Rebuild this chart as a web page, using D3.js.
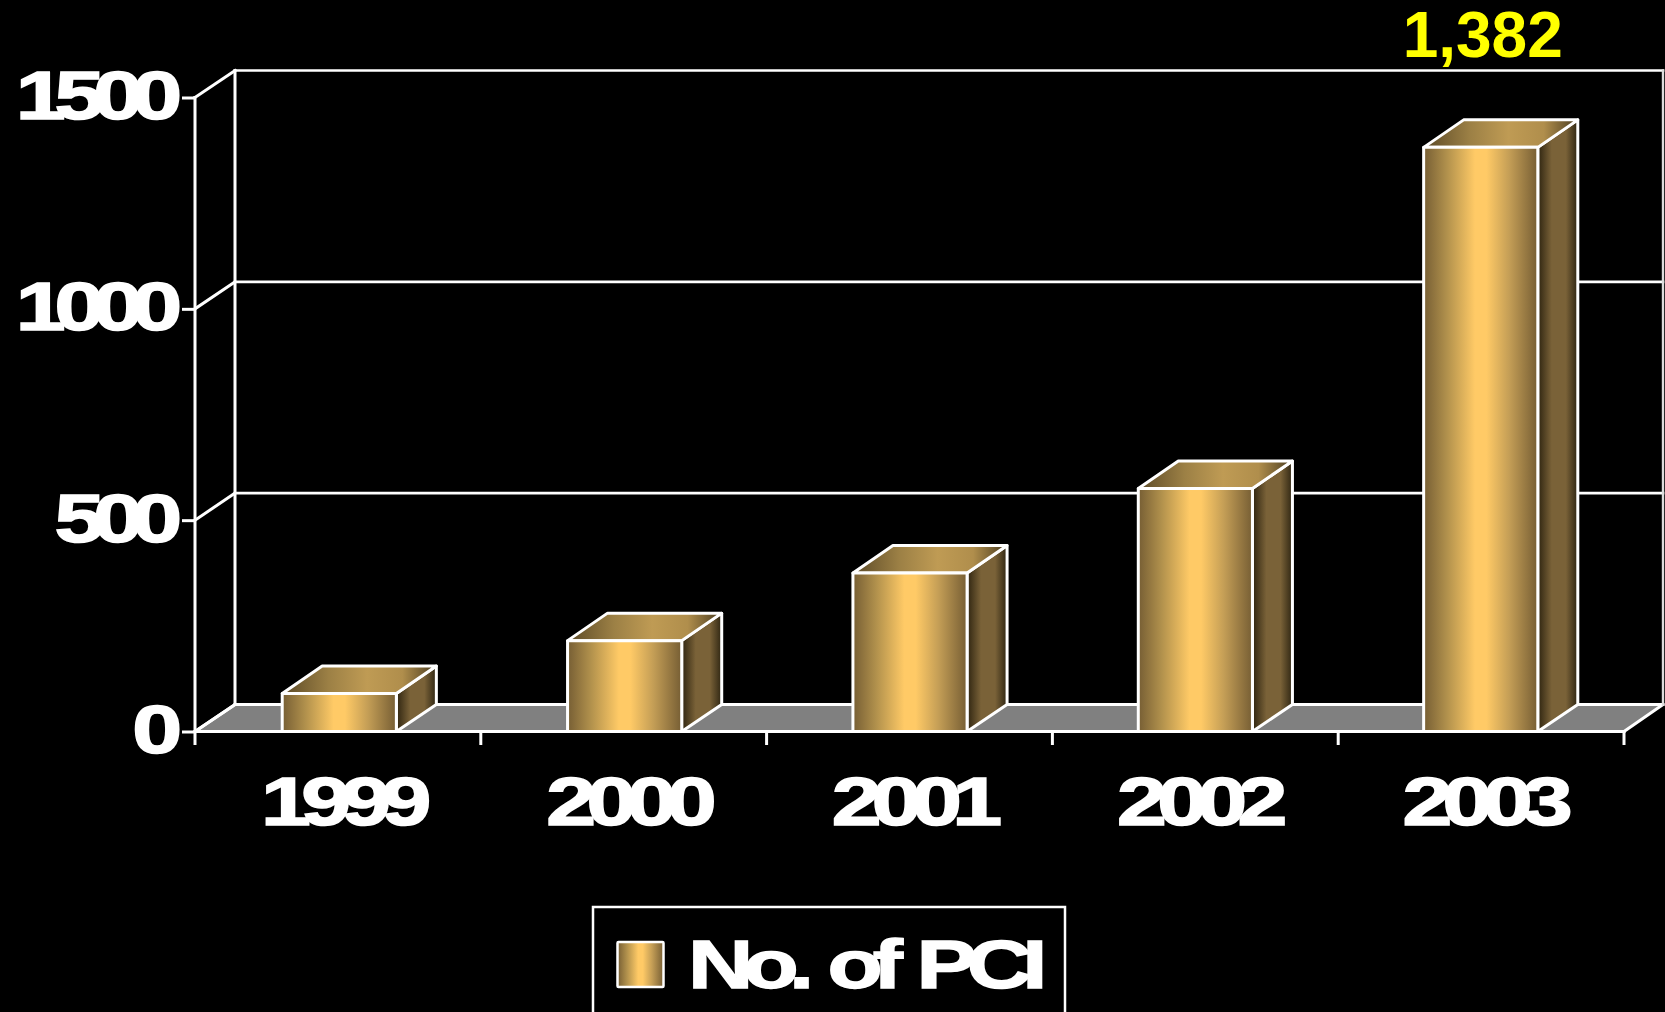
<!DOCTYPE html>
<html><head><meta charset="utf-8">
<script src="https://cdn.jsdelivr.net/npm/d3@7/dist/d3.min.js"></script>
<style>
html,body{margin:0;padding:0;background:#000;overflow:hidden}
svg{display:block}
text{font-family:"Liberation Sans",Arial,sans-serif;font-weight:700}
</style></head><body>
<svg id="c" width="1665" height="1012"></svg>
<script>
const years = ["1999","2000","2001","2002","2003"];
const pciValues = [90, 215, 375, 575, 1382];
const yTicks = [0, 500, 1000, 1500];
const highlightLabel = "1,382";
const legendLabel = "No. of PCI";

const W = 1665, H = 1012;
const left = 195, right = 1624, base = 731.5, top1500 = 97.5;
const depthX = 40, depthY = 27, barTopDepthY = 27.5;
const svg = d3.select("#c");
svg.append("rect").attr("width", W).attr("height", H).attr("fill", "#000");

const x = d3.scaleBand().domain(years).range([196.6, 1623.4]).paddingInner(0.6).paddingOuter(0.3);
const xEdge = d3.scaleLinear().domain([0, years.length]).range([left, right]);
const y = d3.scaleLinear().domain([0, 1500]).range([base, top1500]);

const defs = svg.append("defs");
function grad(id, stops) {
  const g = defs.append("linearGradient").attr("id", id).attr("x1", 0).attr("x2", 1).attr("y1", 0).attr("y2", 0);
  stops.forEach(([o, c]) => g.append("stop").attr("offset", o).attr("stop-color", c));
}
grad("front", [[0, "#765e34"], [0.2, "#b0904c"], [0.45, "#ffca66"], [0.55, "#ffca66"], [0.75, "#c49e56"], [1, "#765e34"]]);
grad("topf", [[0, "#5c4a27"], [0.3, "#9c8045"], [0.55, "#bf9b54"], [0.78, "#b08e4c"], [1, "#4a3c20"]]);
grad("side", [[0, "#2e2410"], [0.35, "#7a6238"], [0.7, "#7a6238"], [1, "#2e2512"]]);

const lw = 3, white = "#fff";
const line = (g, x1, y1, x2, y2, w = lw, c = white) =>
  g.append("line").attr("x1", x1).attr("y1", y1).attr("x2", x2).attr("y2", y2)
    .attr("stroke", c).attr("stroke-width", w).attr("stroke-linecap", "square");

// floor
const wall = svg.append("g");
wall.append("polygon")
  .attr("points", [[left, base], [left + depthX, base - depthY], [right + depthX - 1, base - depthY], [right, base]].join(" "))
  .attr("fill", "#808080").attr("stroke", white).attr("stroke-width", lw).attr("stroke-linejoin", "round");

// back wall and gridlines
yTicks.forEach(t => {
  const yy = y(t);
  line(wall, left, yy, left + depthX, yy - depthY);
  line(wall, left + depthX, yy - depthY, right + depthX - 1, yy - depthY, t === 0 ? lw : 2.6);
});
line(wall, left + depthX, y(1500) - depthY, left + depthX, base - depthY);
line(wall, right + depthX - 1, y(1500) - depthY, right + depthX - 1, base - depthY, 2.4, "#ddd");

// front axes
const yAxis = svg.append("g").attr("transform", `translate(${left},0)`)
  .call(d3.axisLeft(y).tickValues(yTicks).tickSize(13).tickFormat(d3.format("d")));
yAxis.select(".domain").remove();
yAxis.selectAll("line").attr("stroke", white).attr("stroke-width", lw);
yAxis.selectAll("text").attr("fill", white).attr("stroke", white).attr("stroke-width", 1.6)
  .attr("font-size", 69).attr("text-anchor", "end").attr("letter-spacing", -8.5)
  .attr("x", 0).attr("dy", 0).attr("y", 0)
  .attr("transform", "translate(-24,21) scale(1.3,1)");
line(svg, left, y(1500), left, base + 12);
line(svg, left, base, right, base);

const xTickG = svg.append("g");
d3.range(1, years.length + 1).forEach(i => line(xTickG, xEdge(i), base, xEdge(i), base + 12));

// bars
const bars = svg.append("g").selectAll("g").data(years.map((d, i) => ({ year: d, v: pciValues[i] }))).join("g");
const edge = { stroke: white, "stroke-width": lw, "stroke-linejoin": "round" };
function faces(sel, name, pts, fill) {
  const p = sel.append("polygon").attr("class", name).attr("points", pts).attr("fill", fill);
  Object.entries(edge).forEach(([k, v]) => p.attr(k, v));
}
bars.each(function (d) {
  const g = d3.select(this);
  const x0 = x(d.year), x1 = x0 + x.bandwidth(), yt = y(d.v);
  faces(g, "side", [[x1, base], [x1 + depthX, base - depthY], [x1 + depthX, yt - barTopDepthY], [x1, yt]].join(" "), "url(#side)");
  faces(g, "top", [[x0, yt], [x0 + depthX, yt - barTopDepthY], [x1 + depthX, yt - barTopDepthY], [x1, yt]].join(" "), "url(#topf)");
  faces(g, "front", [[x0, base], [x0, yt], [x1, yt], [x1, base]].join(" "), "url(#front)");
});

// category labels
const xAxis = svg.append("g").attr("transform", `translate(0,${base})`)
  .call(d3.axisBottom(x).tickSize(0).tickFormat(d => d));
xAxis.select(".domain").remove();
xAxis.selectAll("text").attr("fill", white).attr("stroke", white).attr("stroke-width", 1.6)
  .attr("font-size", 69).attr("text-anchor", "middle").attr("letter-spacing", -7.5)
  .attr("x", 0).attr("y", 0).attr("dy", 0)
  .attr("transform", "translate(2,93) scale(1.3,1)");

// highlighted value
svg.append("text").text(highlightLabel)
  .attr("x", x("2003") + x.bandwidth() / 2 + 2).attr("y", 57)
  .attr("text-anchor", "middle").attr("font-size", 64).attr("fill", "#ffff00");

// legend
const leg = svg.append("g");
leg.append("rect").attr("x", 593).attr("y", 907).attr("width", 472).attr("height", 140)
  .attr("fill", "#000").attr("stroke", white).attr("stroke-width", 2.5);
leg.append("rect").attr("x", 617.5).attr("y", 942).attr("width", 46).attr("height", 45)
  .attr("fill", "url(#front)").attr("stroke", white).attr("stroke-width", 2.5).attr("rx", 1);
leg.append("text").text(legendLabel)
  .attr("transform", "translate(688,988) scale(1.33,1)")
  .attr("fill", white).attr("stroke", white).attr("stroke-width", 1.4)
  .attr("font-size", 68).attr("letter-spacing", -7.4).attr("word-spacing", 6);
</script>
</body></html>
